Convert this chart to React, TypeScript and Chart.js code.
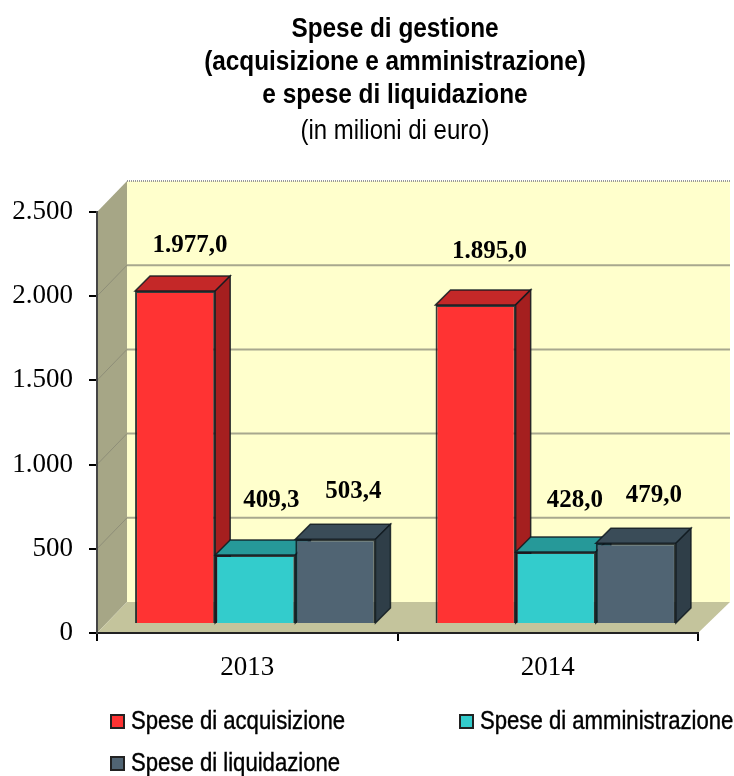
import React, { useEffect, useRef } from "react";
import { Chart, registerables } from "chart.js";

Chart.register(...registerables);

const categories = ["2013", "2014"];
const acquisizione = [1977.0, 1895.0];
const amministrazione = [409.3, 428.0];
const liquidazione = [503.4, 479.0];
const seriesNames = ["Spese di acquisizione", "Spese di amministrazione", "Spese di liquidazione"];
const titleLines = ["Spese di gestione", "(acquisizione e amministrazione)", "e spese di liquidazione"];
const subtitleText = "(in milioni di euro)";

const fronts = ["#FF3333", "#33CCCC", "#506473"];
const tops = ["#C42828", "#269999", "#3A4C58"];
const sides = ["#A51F1F", "#1F8080", "#2F3E48"];
const SANS = "'Liberation Sans', Arial, sans-serif";
const SERIF = "'Liberation Serif', 'Times New Roman', serif";

const formatIt = (v: number, dec: number) => {
  const [i, d] = v.toFixed(dec).split(".");
  const int = i.replace(/\B(?=(\d{3})+$)/g, ".");
  return d ? `${int},${d}` : int;
};

const WALL = { dx: 30, dy: -31 };
const SHIFT = { x: 8, y: -9 };
const DEPTH = 15;
const TITLE_CENTRE = 395;
// label anchor relative to the bar's top centre, one pair per dataset and category
const labelNudges = [
  [[23, -48], [22, -56]],
  [[24, -57], [27, -54]],
  [[26, -50], [26, -50]],
];

function poly(ctx: CanvasRenderingContext2D, pts: number[][], fill: string, stroke?: string) {
  ctx.beginPath();
  pts.forEach((p, i) => (i ? ctx.lineTo(p[0], p[1]) : ctx.moveTo(p[0], p[1])));
  ctx.closePath();
  ctx.fillStyle = fill;
  ctx.fill();
  if (stroke) {
    ctx.strokeStyle = stroke;
    ctx.lineWidth = 1.5;
    ctx.stroke();
  }
}

const scenePlugin = {
  id: "scene3d",
  afterLayout(chart: any) {
    chart.boxes.forEach((b: any) => {
      if (b.position === "top" && b.options && b.options.text !== undefined && !b.__narrow) {
        b.__narrow = true;
        const squeeze = Array.isArray(b.options.text) ? 0.87 : 0.855;
        const draw = b.draw.bind(b);
        // the reference uses a condensed sans: no such face is installed, so squeeze horizontally
        b.draw = () => {
          const ctx = chart.ctx;
          const mid = (b.left + b.right) / 2;
          ctx.save();
          ctx.translate(TITLE_CENTRE, 0);
          ctx.scale(squeeze, 1);
          ctx.translate(-mid, 0);
          draw();
          ctx.restore();
        };
      }
    });
  },
  beforeDraw(chart: any) {
    const { ctx, chartArea: a, scales } = chart;
    const { left: l, right: r, top: t, bottom: b } = a;
    ctx.save();
    poly(ctx, [[l + WALL.dx, t + WALL.dy], [r + 32, t + WALL.dy], [r + 32, b + WALL.dy], [l + WALL.dx, b + WALL.dy]], "#FFFFCC");
    poly(ctx, [[l, t], [l + WALL.dx, t + WALL.dy], [l + WALL.dx, b + WALL.dy], [l, b]], "#A6A686");
    poly(ctx, [[l, b], [l + WALL.dx, b + WALL.dy], [r + 32, b + WALL.dy], [r, b]], "#C4C49C");
    const y = scales.y;
    [500, 1000, 1500, 2000].forEach((v) => {
      const py = y.getPixelForValue(v);
      ctx.strokeStyle = "#A8A88E";
      ctx.lineWidth = 2;
      ctx.beginPath();
      ctx.moveTo(l + WALL.dx, py + WALL.dy);
      ctx.lineTo(r + 32, py + WALL.dy);
      ctx.stroke();
      ctx.strokeStyle = "#8E8E78";
      ctx.lineWidth = 1;
      ctx.beginPath();
      ctx.moveTo(l, py);
      ctx.lineTo(l + WALL.dx, py + WALL.dy);
      ctx.stroke();
    });
    ctx.strokeStyle = "#999999";
    ctx.lineWidth = 2;
    ctx.setLineDash([1, 1]);
    ctx.beginPath();
    ctx.moveTo(l + WALL.dx, t + WALL.dy);
    ctx.lineTo(r + 32, t + WALL.dy);
    ctx.stroke();
    ctx.restore();
  },
  // the library paints datasets last-to-first; these boxes need first-to-last
  beforeDatasetDraw() {
    return false;
  },
  afterDatasetsDraw(chart: any) {
    const { ctx } = chart;
    ctx.save();
    ctx.translate(SHIFT.x, SHIFT.y);
    chart.data.datasets.forEach((_: any, i: number) => {
      chart.getDatasetMeta(i).data.forEach((bar: any) => {
        const p = bar.getProps(["x", "y", "base", "width"], true);
        const L = p.x - p.width / 2;
        const R = p.x + p.width / 2;
        const edge = "rgba(15,25,30,0.85)";
        poly(ctx, [[L, p.y], [L + DEPTH, p.y - DEPTH], [R + DEPTH, p.y - DEPTH], [R, p.y]], tops[i], edge);
        poly(ctx, [[R, p.y], [R + DEPTH, p.y - DEPTH], [R + DEPTH, p.base - DEPTH], [R, p.base]], sides[i], edge);
        bar.draw(ctx);
      });
    });
    ctx.restore();
    ctx.save();
    ctx.font = `bold 25px ${SERIF}`;
    ctx.fillStyle = "#000";
    ctx.textAlign = "center";
    ctx.textBaseline = "alphabetic";
    chart.data.datasets.forEach((ds: any, i: number) => {
      chart.getDatasetMeta(i).data.forEach((bar: any, j: number) => {
        const p = bar.getProps(["x", "y"], true);
        ctx.fillText(formatIt(ds.data[j], 1), p.x + labelNudges[i][j][0], p.y + labelNudges[i][j][1]);
      });
    });
    ctx.restore();
  },
  afterDraw(chart: any) {
    const { ctx } = chart;
    const slots = [[110, 721], [459, 721], [110, 763]];
    ctx.save();
    ctx.font = `25px ${SANS}`;
    ctx.textBaseline = "alphabetic";
    chart.data.datasets.forEach((ds: any, i: number) => {
      const [x, y] = slots[i];
      ctx.fillStyle = fronts[i];
      ctx.strokeStyle = "#222";
      ctx.lineWidth = 2;
      ctx.fillRect(x, y - 7, 15, 15);
      ctx.strokeRect(x + 1, y - 6, 13, 13);
      ctx.save();
      ctx.translate(x + 21, y + 8);
      ctx.scale(0.885, 1);
      ctx.fillStyle = "#000";
      ctx.strokeStyle = "#000";
      ctx.lineWidth = 0.4;
      ctx.fillText(ds.label, 0, 0);
      ctx.strokeText(ds.label, 0, 0);
      ctx.restore();
    });
    ctx.restore();
  },
};

export default function App() {
  const ref = useRef<HTMLCanvasElement>(null);
  useEffect(() => {
    const chart = new Chart(ref.current!, {
      type: "bar",
      data: {
        labels: categories,
        datasets: [
          { label: seriesNames[0], data: acquisizione, backgroundColor: fronts[0] },
          { label: seriesNames[1], data: amministrazione, backgroundColor: fronts[1] },
          { label: seriesNames[2], data: liquidazione, backgroundColor: fronts[2] },
        ].map((d) => ({
          ...d,
          borderColor: "rgba(15,25,30,0.85)",
          borderWidth: 2,
          categoryPercentage: 0.8,
          barPercentage: 1,
          clip: false,
        })),
      },
      options: {
        responsive: false,
        animation: false,
        layout: { padding: { left: 0, right: 36, top: 0, bottom: 0 } },
        plugins: {
          legend: { display: false },
          tooltip: { enabled: false },
          title: {
            display: true,
            fullSize: false,
            text: titleLines,
            color: "#000",
            font: { family: SANS, size: 28, weight: "bold", lineHeight: "33px" },
            padding: { top: 13, bottom: 0 },
          },
          subtitle: {
            display: true,
            fullSize: false,
            text: subtitleText,
            color: "#000",
            font: { family: SANS, size: 28, weight: "normal", lineHeight: "33px" },
            padding: { top: 3, bottom: 64 },
          },
        },
        scales: {
          x: {
            afterFit: (s: any) => { s.height = 143; },
            grid: { offset: true, drawOnChartArea: false, drawTicks: true, tickLength: 8, color: "#000", lineWidth: 2 },
            border: { color: "#222", width: 2, dash: [2, 1] },
            ticks: { color: "#000", padding: 11, font: { family: SERIF, size: 27 } },
          },
          y: {
            min: 0,
            max: 2500,
            afterFit: (s: any) => { s.width = 97; },
            grid: { drawOnChartArea: false, drawTicks: true, tickLength: 8, color: "#000", lineWidth: 2 },
            border: { color: "#444", width: 2, dash: [2, 1] },
            ticks: {
              stepSize: 500,
              color: "#000",
              padding: 16,
              font: { family: SERIF, size: 27 },
              callback: (v: any) => formatIt(Number(v), 0),
            },
          },
        },
      },
      plugins: [scenePlugin],
    } as any);
    return () => chart.destroy();
  }, []);
  return (
    <div style={{ position: "absolute", left: 0, top: 0, width: 734, height: 776 }}>
      <canvas ref={ref} width={734} height={776} style={{ display: "block" }} />
    </div>
  );
}
